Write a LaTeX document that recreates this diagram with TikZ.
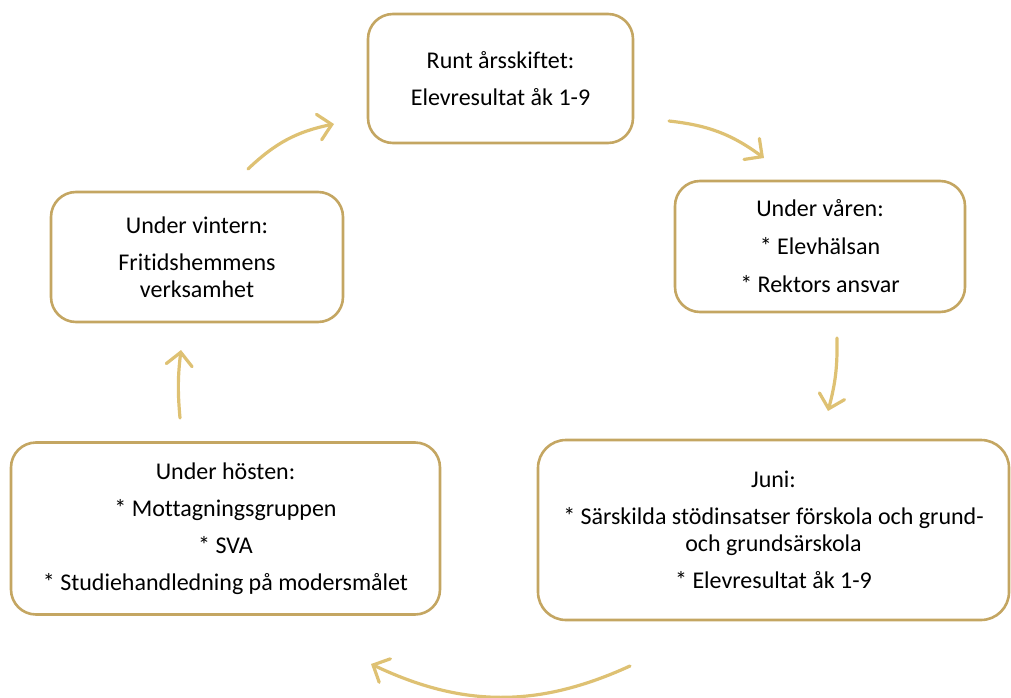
\documentclass[tikz,border=0pt]{standalone}
\usepackage{fontspec}
\setmainfont{Carlito}[Ligatures=NoCommon]
\usetikzlibrary{arrows.meta}
\definecolor{boxgold}{RGB}{196,166,98}
\definecolor{arrgold}{RGB}{222,193,115}
\begin{document}
\begin{tikzpicture}[x=1pt,y=-1pt,
  cyclebox/.style={draw=boxgold, line width=2.6pt, rounded corners=25pt, fill=white,
    rectangle, inner sep=0pt, align=center,
    font=\fontsize{24}{27}\selectfont},
  cyclearrow/.style={draw=arrgold, line width=3.2pt, line cap=round,
    -{Straight Barb[length=13pt,width=26pt,line cap=round]}}]
\useasboundingbox (0,0) rectangle (1011,698);
\node[cyclebox, minimum width=265pt, minimum height=129pt] (top) at (500.5,78.5)
  {Runt årsskiftet:\\[10pt]Elevresultat åk 1-9};
\node[cyclebox, minimum width=290pt, minimum height=131pt] (spring) at (820,246.5)
  {Under våren:\\[11pt]* Elevhälsan\\[11pt]* Rektors ansvar};
\node[cyclebox, minimum width=471pt, minimum height=180pt, rounded corners=28pt] (june) at (773.5,530)
  {Juni:\\[10pt]* Särskilda stödinsatser förskola och grund-\\och grundsärskola\\[10pt]* Elevresultat åk 1-9};
\node[cyclebox, minimum width=429pt, minimum height=172pt] (autumn) at (225.5,528.5)
  {Under hösten:\\[10pt]* Mottagningsgruppen\\[10pt]* SVA\\[10pt]* Studiehandledning på modersmålet};
\node[cyclebox, minimum width=292pt, minimum height=130pt] (winter) at (197,257)
  {Under vintern:\\[10pt]Fritidshemmens\\verksamhet};
\coordinate (a1s) at (248,169); \coordinate (a1e) at (334,124);
\coordinate (a2s) at (669,121); \coordinate (a2e) at (764,158);
\coordinate (a3s) at (837,338); \coordinate (a3e) at (828,411);
\coordinate (a4s) at (630,666); \coordinate (a4e) at (371,664);
\coordinate (a5s) at (180,418); \coordinate (a5e) at (181,350);
\draw[cyclearrow] (a1s) to[bend left=16] (a1e);
\draw[cyclearrow] (a2s) to[bend left=15] (a2e);
\draw[cyclearrow] (a3s) to[bend left=8] (a3e);
\draw[cyclearrow] (a4s) to[bend left=25] (a4e);
\draw[cyclearrow] (a5s) to[bend left=6] (a5e);
\end{tikzpicture}
\end{document}
